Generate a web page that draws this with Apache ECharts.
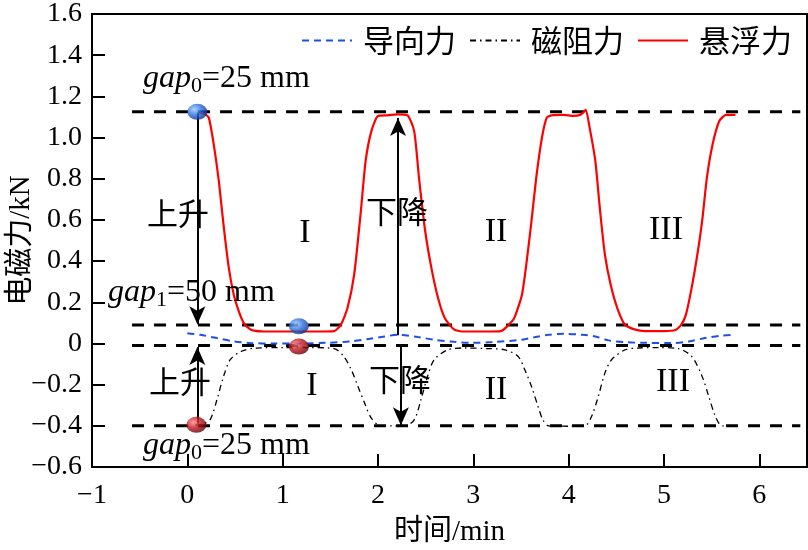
<!DOCTYPE html>
<html>
<head>
<meta charset="utf-8">
<script src="https://cdn.jsdelivr.net/npm/echarts@6/dist/echarts.min.js"></script>
<style>html,body{margin:0;padding:0;background:#fff;}#c{width:808px;height:550px;}</style>
</head>
<body>
<div id="c"></div>
<script>
// ---- data ----
const seriesNames = ['导向力', '磁阻力', '悬浮力'];
const xTicks = [-1, 0, 1, 2, 3, 4, 5, 6];
const yTicks = [-0.6, -0.4, -0.2, 0, 0.2, 0.4, 0.6, 0.8, 1.0, 1.2, 1.4, 1.6];

// 悬浮力 (levitation force)
const levitation = [
  [0.13,1.12],[0.18,1.115],[0.225,1.097],[0.277,0.967],[0.33,0.79],[0.383,0.562],[0.435,0.367],
  [0.487,0.237],[0.54,0.156],[0.593,0.099],[0.65,0.072],[0.70,0.062],[0.8,0.058],[1.0,0.058],
  [1.2,0.058],[1.4,0.058],[1.54,0.06],[1.61,0.09],[1.68,0.172],[1.75,0.334],[1.82,0.642],
  [1.87,0.886],[1.93,1.03],[2.0,1.105],[2.1,1.108],[2.2,1.113],[2.31,1.108],[2.38,1.03],
  [2.43,0.805],[2.49,0.562],[2.56,0.367],[2.63,0.221],[2.70,0.124],[2.80,0.067],[2.9,0.058],
  [3.1,0.058],[3.29,0.06],[3.37,0.09],[3.43,0.124],[3.51,0.237],[3.56,0.40],[3.61,0.594],
  [3.66,0.805],[3.72,1.0],[3.77,1.097],[3.82,1.108],[3.95,1.11],[4.05,1.105],[4.12,1.11],
  [4.16,1.125],[4.18,1.135],[4.22,1.048],[4.28,0.886],[4.33,0.642],[4.38,0.432],[4.44,0.286],
  [4.51,0.172],[4.59,0.091],[4.70,0.067],[4.8,0.06],[5.0,0.06],[5.12,0.065],[5.18,0.09],
  [5.23,0.14],[5.29,0.27],[5.35,0.432],[5.40,0.594],[5.45,0.805],[5.51,0.967],[5.58,1.08],
  [5.65,1.11],[5.75,1.11]
];
// 导向力 (guidance force)
const guidance = [
  [0.0,0.05],[0.137,0.042],[0.31,0.026],[0.49,0.01],[0.66,0.002],[0.9,0.0],[1.19,0.0],
  [1.45,0.003],[1.72,0.01],[1.9,0.022],[2.07,0.034],[2.21,0.042],[2.42,0.031],[2.59,0.018],
  [2.8,0.008],[2.98,0.003],[3.2,0.007],[3.51,0.018],[3.64,0.03],[3.79,0.042],[3.95,0.047],
  [4.14,0.042],[4.28,0.034],[4.42,0.015],[4.6,0.006],[4.8,0.003],[5.08,0.002],[5.26,0.01],
  [5.43,0.026],[5.6,0.038],[5.72,0.042]
];
// 磁阻力 (magnetic drag force)
const drag = [
  [0.084,-0.396],[0.17,-0.39],[0.24,-0.37],[0.31,-0.274],[0.38,-0.16],[0.45,-0.079],[0.56,-0.039],
  [0.70,-0.023],[1.0,-0.02],[1.3,-0.02],[1.54,-0.025],[1.64,-0.063],[1.72,-0.128],[1.79,-0.209],
  [1.86,-0.29],[1.93,-0.363],[2.03,-0.40],[2.15,-0.40],[2.28,-0.40],[2.38,-0.371],[2.45,-0.274],
  [2.52,-0.16],[2.59,-0.079],[2.73,-0.031],[2.91,-0.022],[3.15,-0.025],[3.33,-0.031],[3.47,-0.063],
  [3.54,-0.128],[3.61,-0.209],[3.68,-0.307],[3.73,-0.371],[3.79,-0.40],[4.0,-0.402],[4.17,-0.40],
  [4.24,-0.355],[4.31,-0.258],[4.38,-0.144],[4.45,-0.079],[4.59,-0.031],[4.73,-0.022],[4.95,-0.02],
  [5.15,-0.025],[5.29,-0.063],[5.40,-0.16],[5.47,-0.258],[5.54,-0.355],[5.61,-0.40],[5.75,-0.40]
];
// horizontal reference levels and their x extent
const refLevels = [1.125, 0.09, -0.01, -0.40];
const refXRange = [-0.58, 6.43];
// arrows: x, from y, to y (head at "to")
const arrowX = [0.105, 0.105, 2.21, 2.24];
const arrowFrom = [1.12, -0.39, 0.04, -0.01];
const arrowTo = [0.093, -0.017, 1.095, -0.397];
// gap position markers
const blueBalls = [[0.105, 1.125], [1.17, 0.083]];
const redBalls = [[0.095, -0.395], [1.17, -0.015]];

// ---- chart ----
const chart = echarts.init(document.getElementById('c'), null, {renderer: 'canvas'});
const serif = "'Liberation Serif', 'Times New Roman', serif";
const cjk = "'Liberation Serif', 'Noto Sans CJK SC', serif";

function ballColor(light, mid, dark) {
  return new echarts.graphic.RadialGradient(0.35, 0.35, 0.7, [
    {offset: 0, color: light}, {offset: 0.5, color: mid}, {offset: 1, color: dark}
  ]);
}

const refSeries = refLevels.map(v => ({
  type: 'line', silent: true, symbol: 'none', animation: false,
  data: [[refXRange[0], v], [refXRange[1], v]],
  lineStyle: {color: '#000', width: 3, type: [12, 10]}, z: 3
}));

const arrowLines = arrowX.map((x, i) => [
  {coord: [x, arrowFrom[i]]}, {coord: [x, arrowTo[i]]}
]);

const option = {
  animation: false,
  backgroundColor: '#fff',
  grid: {left: 92, right: 1, top: 14, bottom: 83, show: true, borderColor: '#000', borderWidth: 2,
    containLabel: false, outerBoundsMode: 'none'},
  legend: {
    data: seriesNames, right: 11, top: 20, itemWidth: 50, itemHeight: 14, itemGap: 13,
    itemStyle: {opacity: 0},
    textStyle: {fontFamily: "'Noto Sans CJK SC'", fontSize: 31, color: '#000', padding: [0, 0, 0, 6]}
  },
  xAxis: {
    type: 'value', min: xTicks[0], max: 6.5, interval: 1,
    name: '时间/min', nameLocation: 'middle', nameGap: 51, nameMoveOverlap: false,
    nameTextStyle: {fontFamily: cjk, fontSize: 29, color: '#000'},
    axisLine: {onZero: false, lineStyle: {color: '#000', width: 2}},
    axisTick: {inside: true, length: 13, lineStyle: {color: '#000', width: 2}},
    axisLabel: {
      fontFamily: serif, fontSize: 28, color: '#000', margin: 15, showMaxLabel: false,
      formatter: v => Math.abs(v - Math.round(v)) > 1e-6 ? '' : String(Math.round(v)).replace('-', '\u2212')
    },
    splitLine: {show: false}
  },
  yAxis: {
    type: 'value', min: yTicks[0], max: yTicks[yTicks.length - 1], interval: 0.2,
    name: '电磁力/kN', nameLocation: 'middle', nameGap: 56, nameMoveOverlap: false,
    nameTextStyle: {fontFamily: cjk, fontSize: 29, color: '#000'},
    axisLine: {onZero: false, lineStyle: {color: '#000', width: 2}},
    axisTick: {inside: true, length: 13, lineStyle: {color: '#000', width: 2}},
    axisLabel: {
      fontFamily: serif, fontSize: 28, color: '#000', margin: 10,
      formatter: v => Math.abs(v) < 1e-9 ? '0' : v.toFixed(1).replace('-', '\u2212')
    },
    splitLine: {show: false}
  },
  series: [
    ...refSeries,
    {
      name: seriesNames[0], type: 'line', symbol: 'none', smooth: 0.3, data: guidance,
      lineStyle: {color: '#1f4fe6', width: 2, type: [7, 5]}, itemStyle: {color: '#1f4fe6'}, z: 4
    },
    {
      name: seriesNames[1], type: 'line', symbol: 'none', smooth: 0.3, data: drag,
      lineStyle: {color: '#000', width: 1.3, type: [6, 4, 1.5, 4]}, itemStyle: {color: '#000'}, z: 4
    },
    {
      name: seriesNames[2], type: 'line', symbol: 'none', smooth: 0.2, data: levitation,
      lineStyle: {color: '#ff0000', width: 2.2}, itemStyle: {color: '#ff0000'}, z: 5,
      markLine: {
        silent: true, animation: false, symbol: ['none', 'arrow'], symbolSize: [12, 18], precision: 3,
        label: {show: false},
        lineStyle: {color: '#000', width: 2, type: 'solid'},
        emphasis: {disabled: true},
        data: arrowLines
      }
    },
    {
      type: 'scatter', silent: true, data: blueBalls, symbolSize: [20, 16], z: 10,
      itemStyle: {color: ballColor('#9cc8ff', '#2a6fe0', '#0b2f86')}
    },
    {
      type: 'scatter', silent: true, data: redBalls, symbolSize: [20, 16], z: 10,
      itemStyle: {color: ballColor('#ff8a8a', '#c0141c', '#5a0006')}
    }
  ],
  graphic: (function () {
    const gapRich = {
      i: {fontFamily: serif, fontStyle: 'italic', fontSize: 32, lineHeight: 36, verticalAlign: 'middle'},
      s: {fontFamily: serif, fontSize: 22, lineHeight: 20, verticalAlign: 'bottom'},
      n: {fontFamily: serif, fontSize: 32, lineHeight: 36, verticalAlign: 'middle'}
    };
    function gapText(x, y, sub, val) {
      return {type: 'text', x: x, y: y, z: 20, silent: true,
        style: {text: '{i|gap}{s|' + sub + '}{n|=' + val + ' mm}', rich: gapRich, fill: '#000',
          align: 'left', verticalAlign: 'middle'}};
    }
    function t(x, y, txt, font, size) {
      return {type: 'text', x: x, y: y, z: 20, silent: true,
        style: {text: txt, fontFamily: font, fontSize: size, fill: '#000', align: 'center', verticalAlign: 'middle'}};
    }
    const cj = "'Noto Sans CJK SC'";
    return [
      gapText(143, 79, '0', '25'),
      gapText(108, 293, '1', '50'),
      gapText(143, 446, '0', '25'),
      t(178, 213, '上升', cj, 31),
      t(180, 381, '上升', cj, 31),
      t(397, 211, '下降', cj, 31),
      t(400, 379, '下降', cj, 31),
      t(305, 233, 'I', serif, 34),
      t(312, 386, 'I', serif, 34),
      t(496, 232, 'II', serif, 34),
      t(496, 390, 'II', serif, 34),
      t(666, 230, 'III', serif, 34),
      t(673, 382, 'III', serif, 34)
    ];
  })()
};
chart.setOption(option);
</script>
</body>
</html>
